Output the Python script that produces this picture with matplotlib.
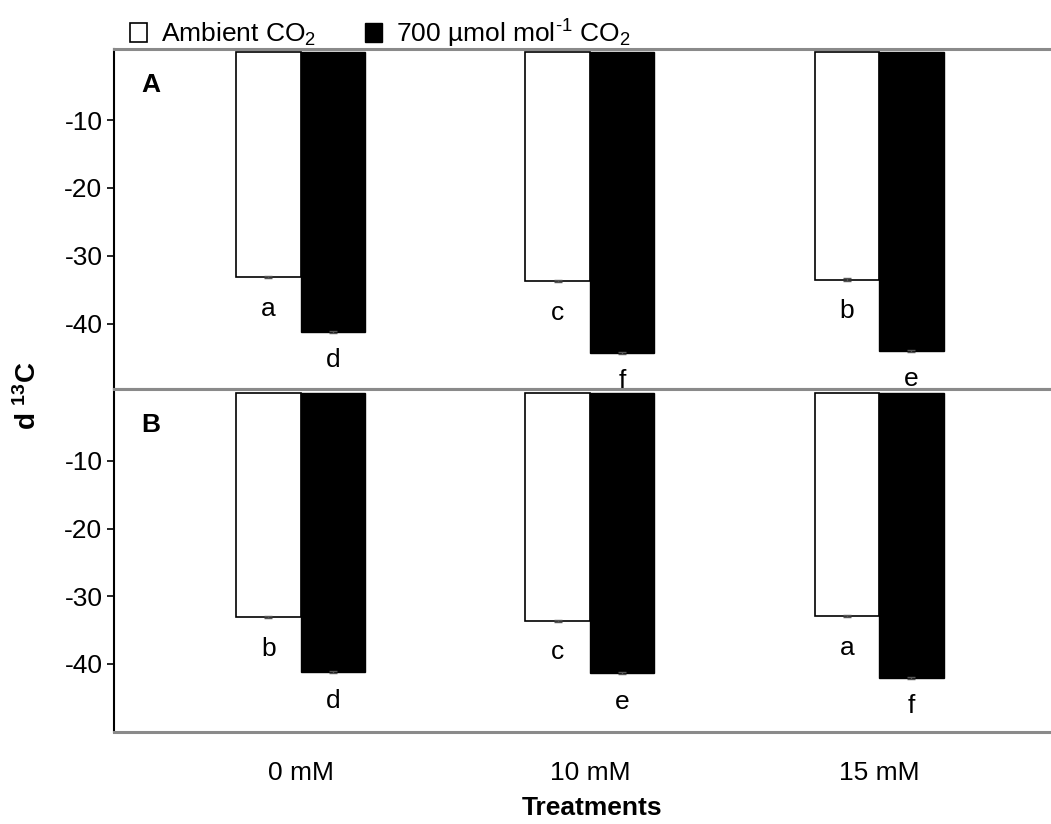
import numpy as np
import matplotlib
matplotlib.use("Agg")
import matplotlib.pyplot as plt

plt.rcParams['font.family'] = ['Liberation Sans', 'DejaVu Sans']
plt.rcParams['mathtext.fontset'] = 'custom'
plt.rcParams['mathtext.rm'] = 'Liberation Sans'
plt.rcParams['mathtext.it'] = 'Liberation Sans:italic'
plt.rcParams['mathtext.bf'] = 'Liberation Sans:bold'
plt.rcParams['axes.unicode_minus'] = False

# data
treatments = ['0 mM', '10 mM', '15 mM']
series_names = ['Ambient CO$_{2}$', '700 \u00b5mol mol$^{\\text{-1}}$ CO$_{2}$']

a_ambient = [-33.1, -33.7, -33.5]
a_elevated = [-41.2, -44.3, -44.0]
a_letters_amb = ['a', 'c', 'b']
a_letters_ele = ['d', 'f', 'e']

b_ambient = [-33.1, -33.6, -32.9]
b_elevated = [-41.2, -41.4, -42.0]
b_letters_amb = ['b', 'c', 'a']
b_letters_ele = ['d', 'e', 'f']

err = [0.15, 0.15, 0.15]

x = np.arange(len(treatments))
w = 0.223
FS = 19

fig = plt.figure(figsize=(10.51, 8.24), dpi=100)
axA = fig.add_axes([0.108, 0.5275, 0.892, 0.4126])
axB = fig.add_axes([0.108, 0.1120, 0.892, 0.4155])


def draw_panel(ax, amb, ele, lab_amb, lab_ele, tag, ylim):
    b1 = ax.bar(x - w / 2, amb, w, color='white', edgecolor='black', linewidth=1.2,
                yerr=err, error_kw=dict(ecolor='#555555', elinewidth=1, capsize=3))
    b2 = ax.bar(x + w / 2, ele, w, color='black', edgecolor='black', linewidth=1,
                yerr=err, error_kw=dict(ecolor='#555555', elinewidth=1, capsize=3))
    for i in range(len(x)):
        ax.text(x[i] - w / 2, amb[i] - 4.7, lab_amb[i], ha='center', va='center', fontsize=FS)
        ax.text(x[i] + w / 2, ele[i] - 4.2, lab_ele[i], ha='center', va='center', fontsize=FS)
    ax.text(0.030, 0.895, tag, transform=ax.transAxes, fontsize=FS, fontweight='bold',
            ha='left', va='center')
    ax.set_xlim(-0.647, 2.594)
    ax.set_ylim(*ylim)
    ax.set_yticks([-10, -20, -30, -40])
    ax.tick_params(axis='y', labelsize=FS, length=5, width=1.2, direction='out', pad=3)
    ax.spines['right'].set_visible(False)
    for s in ['top', 'bottom']:
        ax.spines[s].set_color('#8a8a8a')
        ax.spines[s].set_linewidth(2.2)
    ax.spines['left'].set_color('black')
    ax.spines['left'].set_linewidth(1.5)
    return b1, b2


bars = draw_panel(axA, a_ambient, a_elevated, a_letters_amb, a_letters_ele, 'A', (-49.7, 0.45))
draw_panel(axB, b_ambient, b_elevated, b_letters_amb, b_letters_ele, 'B', (-50, 0.55))

axA.set_xticks([])
axB.set_xticks(x)
axB.set_xticklabels(treatments, fontsize=FS)
axB.tick_params(axis='x', length=0, pad=21)

fig.text(0.5633, 0.0194, 'Treatments', ha='center', va='center', fontsize=FS, fontweight='bold')
fig.text(0.027, 0.52, r'd $^{\mathbf{13}}$C', rotation=90, ha='center', va='center',
         fontsize=FS + 1, fontweight='bold')

fig.legend(bars, series_names, loc='upper left', bbox_to_anchor=(0.124, 0.979), ncol=2,
           frameon=False, fontsize=FS, handlelength=0.62, handleheight=0.72,
           handletextpad=0.55, columnspacing=1.85, borderpad=0, borderaxespad=0)

fig.savefig('out.png', dpi=100)
